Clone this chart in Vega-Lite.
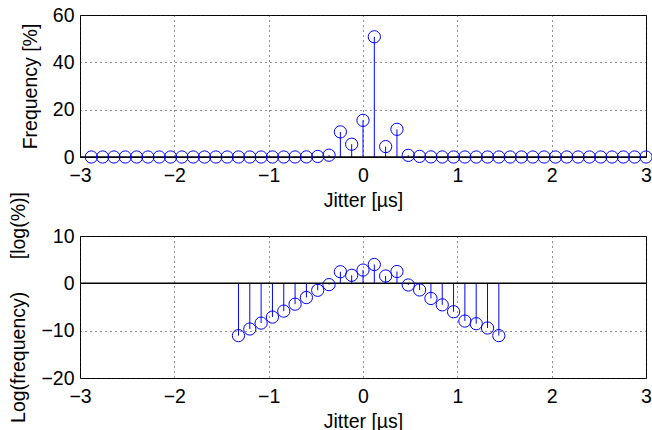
{
  "$schema": "https://vega.github.io/schema/vega-lite/v6.json",
  "padding": {"left": 8, "top": 4, "right": 0, "bottom": 0},
  "background": "white",
  "bounds": "flush",
  "spacing": 79,
  "config": {
    "view": {"stroke": "black", "strokeWidth": 1},
    "axis": {
      "labelFont": "Liberation Sans",
      "labelFontSize": 19.5,
      "labelColor": "black",
      "titleFont": "Liberation Sans",
      "titleFontSize": 19.5,
      "titleFontWeight": "normal",
      "titleColor": "black",
      "grid": true,
      "gridColor": "#222222",
      "gridDash": [1, 4],
      "gridOpacity": 1,
      "domain": false,
      "ticks": false,
      "format": "d"
    },
    "axisX": {"labelPadding": 9, "titlePadding": 7, "labelFlush": false},
    "axisY": {"labelPadding": 6, "titlePadding": 12, "labelFlush": false}
  },
  "datasets": {
    "jit": [
      {"jitter": -2.88, "freq": 0, "logf": null},
      {"jitter": -2.76, "freq": 0, "logf": null},
      {"jitter": -2.64, "freq": 0, "logf": null},
      {"jitter": -2.52, "freq": 0, "logf": null},
      {"jitter": -2.4, "freq": 0, "logf": null},
      {"jitter": -2.28, "freq": 0, "logf": null},
      {"jitter": -2.16, "freq": 0, "logf": null},
      {"jitter": -2.04, "freq": 0, "logf": null},
      {"jitter": -1.92, "freq": 0, "logf": null},
      {"jitter": -1.8, "freq": 0, "logf": null},
      {"jitter": -1.68, "freq": 0, "logf": null},
      {"jitter": -1.56, "freq": 0, "logf": null},
      {"jitter": -1.44, "freq": 0, "logf": null},
      {"jitter": -1.32, "freq": 0.00002, "logf": -11.05},
      {"jitter": -1.2, "freq": 0.00006, "logf": -9.65},
      {"jitter": -1.08, "freq": 0.0002, "logf": -8.4},
      {"jitter": -0.96, "freq": 0.0008, "logf": -7.13},
      {"jitter": -0.84, "freq": 0.003, "logf": -5.87},
      {"jitter": -0.72, "freq": 0.012, "logf": -4.4},
      {"jitter": -0.6, "freq": 0.05, "logf": -3.0},
      {"jitter": -0.48, "freq": 0.23, "logf": -1.47},
      {"jitter": -0.36, "freq": 0.76, "logf": -0.28},
      {"jitter": -0.24, "freq": 10.6, "logf": 2.45},
      {"jitter": -0.12, "freq": 5.4, "logf": 1.7},
      {"jitter": 0, "freq": 15.5, "logf": 2.8},
      {"jitter": 0.12, "freq": 50.8, "logf": 3.98},
      {"jitter": 0.24, "freq": 4.4, "logf": 1.55},
      {"jitter": 0.36, "freq": 11.7, "logf": 2.5},
      {"jitter": 0.48, "freq": 0.7, "logf": -0.35},
      {"jitter": 0.6, "freq": 0.25, "logf": -1.4},
      {"jitter": 0.72, "freq": 0.04, "logf": -3.2},
      {"jitter": 0.84, "freq": 0.011, "logf": -4.55},
      {"jitter": 0.96, "freq": 0.0025, "logf": -6.0},
      {"jitter": 1.08, "freq": 0.0003, "logf": -7.97},
      {"jitter": 1.2, "freq": 0.0002, "logf": -8.53},
      {"jitter": 1.32, "freq": 0.00008, "logf": -9.44},
      {"jitter": 1.44, "freq": 0.00002, "logf": -11.05},
      {"jitter": 1.56, "freq": 0, "logf": null},
      {"jitter": 1.68, "freq": 0, "logf": null},
      {"jitter": 1.8, "freq": 0, "logf": null},
      {"jitter": 1.92, "freq": 0, "logf": null},
      {"jitter": 2.04, "freq": 0, "logf": null},
      {"jitter": 2.16, "freq": 0, "logf": null},
      {"jitter": 2.28, "freq": 0, "logf": null},
      {"jitter": 2.4, "freq": 0, "logf": null},
      {"jitter": 2.52, "freq": 0, "logf": null},
      {"jitter": 2.64, "freq": 0, "logf": null},
      {"jitter": 2.76, "freq": 0, "logf": null},
      {"jitter": 2.88, "freq": 0, "logf": null},
      {"jitter": 3.0, "freq": 0, "logf": null}
    ],
    "base": [{"level": 0}]
  },
  "vconcat": [
    {
      "width": 566,
      "height": 142,
      "layer": [
        {
          "data": {"name": "jit"},
          "mark": {"type": "rule", "color": "#0000ff", "strokeWidth": 1},
          "encoding": {
            "x": {"field": "jitter", "type": "quantitative", "scale": {"domain": [-3, 3]}, "axis": {"values": [-3, -2, -1, 0, 1, 2, 3], "title": "Jitter [µs]"}},
            "y": {"field": "freq", "type": "quantitative", "scale": {"domain": [0, 60]}, "axis": {"values": [0, 20, 40, 60], "title": "Frequency [%]"}},
            "y2": {"datum": 0}
          }
        },
        {
          "data": {"name": "base"},
          "mark": {"type": "rule", "color": "black", "strokeWidth": 1.5},
          "encoding": {"y": {"field": "level", "type": "quantitative"}}
        },
        {
          "data": {"name": "jit"},
          "mark": {"type": "point", "shape": "circle", "filled": false, "color": "#0000ff", "strokeWidth": 1, "size": 150, "opacity": 1},
          "encoding": {
            "x": {"field": "jitter", "type": "quantitative"},
            "y": {"field": "freq", "type": "quantitative"}
          }
        }
      ]
    },
    {
      "width": 566,
      "height": 142,
      "layer": [
        {
          "data": {"name": "jit"},
          "transform": [{"filter": "isValid(datum.logf)"}],
          "mark": {"type": "rule", "color": "#0000ff", "strokeWidth": 1},
          "encoding": {
            "x": {"field": "jitter", "type": "quantitative", "scale": {"domain": [-3, 3]}, "axis": {"values": [-3, -2, -1, 0, 1, 2, 3], "title": "Jitter [µs]"}},
            "y": {"field": "logf", "type": "quantitative", "scale": {"domain": [-20, 10]}, "axis": {"values": [-20, -10, 0, 10], "title": "Log(frequency)\u2007\u2007\u2007[log(%)]"}},
            "y2": {"datum": 0}
          }
        },
        {
          "data": {"name": "base"},
          "mark": {"type": "rule", "color": "black", "strokeWidth": 1.5},
          "encoding": {"y": {"field": "level", "type": "quantitative"}}
        },
        {
          "data": {"name": "jit"},
          "transform": [{"filter": "isValid(datum.logf)"}],
          "mark": {"type": "point", "shape": "circle", "filled": false, "color": "#0000ff", "strokeWidth": 1, "size": 150, "opacity": 1},
          "encoding": {
            "x": {"field": "jitter", "type": "quantitative"},
            "y": {"field": "logf", "type": "quantitative"}
          }
        }
      ]
    }
  ]
}
